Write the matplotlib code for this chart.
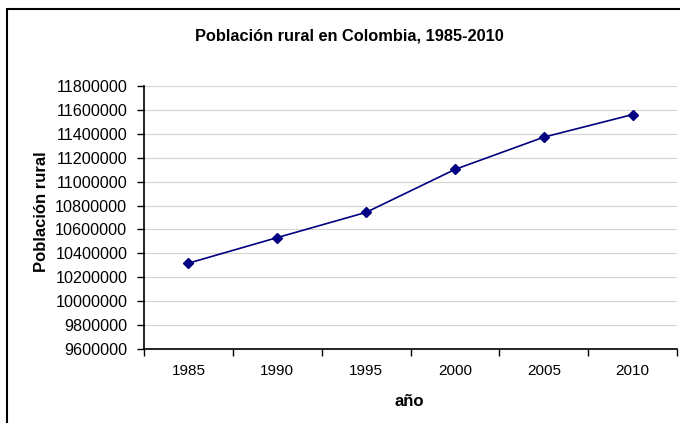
import matplotlib
matplotlib.use("Agg")
import matplotlib.pyplot as plt
from matplotlib.patches import Rectangle
from matplotlib.ticker import FixedLocator, NullFormatter

# Rural population of Colombia by census/projection year
years = ["1985", "1990", "1995", "2000", "2005", "2010"]
rural_population = [10318000, 10532000, 10743000, 11102000, 11372000, 11561000]
y_ticks = list(range(9600000, 11800001, 200000))

plt.rcParams["font.family"] = ["Liberation Sans", "DejaVu Sans"]

fig = plt.figure(figsize=(6.8, 4.23), dpi=100)
ax = fig.add_axes([144 / 680, 1 - 349 / 423, (677 - 144) / 680, (349 - 86) / 423])

x = list(range(len(years)))
ax.plot(x, rural_population, color="#000080", lw=1.2, marker="D",
        markersize=5.5, markerfacecolor="#000080", markeredgecolor="#000080",
        zorder=3)

ax.set_xlim(-0.5, len(years) - 0.5)
ax.set_ylim(y_ticks[0], y_ticks[-1])
ax.set_yticks(y_ticks)
ax.set_yticklabels([str(v) for v in y_ticks])
ax.yaxis.grid(True, color="#d4d4d4", lw=0.8)
ax.set_axisbelow(True)

# category labels centred, tick marks between categories
ax.set_xticks(x)
ax.set_xticklabels(years)
ax.tick_params(axis="x", which="major", length=0, pad=11, labelsize=11)
ax.xaxis.set_minor_locator(FixedLocator([i - 0.5 for i in range(len(years) + 1)]))
ax.xaxis.set_minor_formatter(NullFormatter())
ax.tick_params(axis="x", which="minor", length=5, width=1, direction="out")
ax.tick_params(axis="y", length=5, width=1, direction="out", pad=7, labelsize=11.6)

for side in ("top", "right"):
    ax.spines[side].set_visible(False)
for side in ("left", "bottom"):
    ax.spines[side].set_linewidth(1.2)

fig.text(349 / 680, 1 - 36 / 423, "Población rural en Colombia, 1985-2010",
         ha="center", va="center", fontsize=11.8, fontweight="bold")
fig.text(42 / 680, 1 - 212 / 423, "Población rural", rotation=90,
         ha="center", va="center", fontsize=12, fontweight="bold")
fig.text(409 / 680, 1 - 401 / 423, "año", ha="center", va="center",
         fontsize=12, fontweight="bold")

# chart-area border
fig.patches.append(Rectangle((7 / 680, -0.1), 1.2, 1 - 9 / 423 + 0.1,
                             transform=fig.transFigure, fill=False,
                             edgecolor="black", lw=1.5, zorder=10))

fig.savefig("out.png", dpi=100)
